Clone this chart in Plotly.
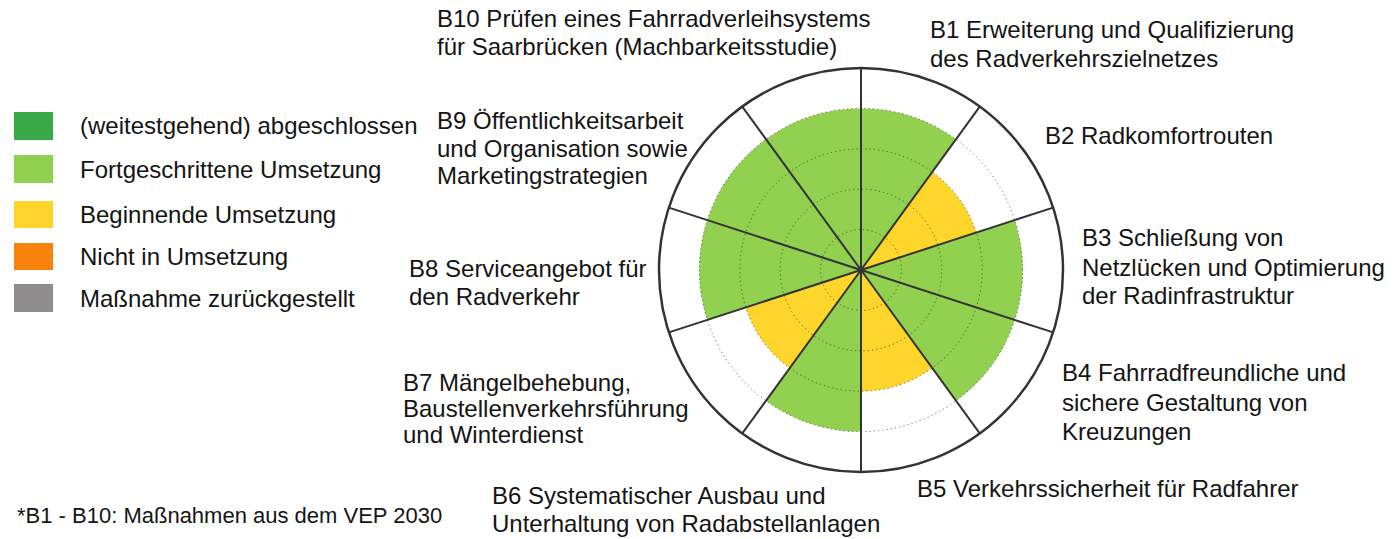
import plotly.graph_objects as go

# ---------------- data ----------------
measure_ids = ["B1", "B2", "B3", "B4", "B5", "B6", "B7", "B8", "B9", "B10"]
measure_lines = [
    ["B1 Erweiterung und Qualifizierung", "des Radverkehrszielnetzes"],
    ["B2 Radkomfortrouten"],
    ["B3 Schließung von", "Netzlücken und Optimierung", "der Radinfrastruktur"],
    ["B4 Fahrradfreundliche und", "sichere Gestaltung von", "Kreuzungen"],
    ["B5 Verkehrssicherheit für Radfahrer"],
    ["B6 Systematischer Ausbau und", "Unterhaltung von Radabstellanlagen"],
    ["B7 Mängelbehebung,", "Baustellenverkehrsführung", "und Winterdienst"],
    ["B8 Serviceangebot für", "den Radverkehr"],
    ["B9 Öffentlichkeitsarbeit", "und Organisation sowie", "Marketingstrategien"],
    ["B10 Prüfen eines Fahrradverleihsystems", "für Saarbrücken (Machbarkeitsstudie)"],
]
status_level = [4, 3, 4, 4, 3, 4, 3, 4, 4, 4]
status_by_measure = [
    "Fortgeschrittene Umsetzung", "Beginnende Umsetzung", "Fortgeschrittene Umsetzung",
    "Fortgeschrittene Umsetzung", "Beginnende Umsetzung", "Fortgeschrittene Umsetzung",
    "Beginnende Umsetzung", "Fortgeschrittene Umsetzung", "Fortgeschrittene Umsetzung",
    "Fortgeschrittene Umsetzung",
]
legend_labels = ["(weitestgehend) abgeschlossen", "Fortgeschrittene Umsetzung",
                 "Beginnende Umsetzung", "Nicht in Umsetzung", "Maßnahme zurückgestellt"]
legend_colors = ["#3aaa48", "#92d050", "#fdd52b", "#f7830d", "#8f8d8d"]
footnote = "*B1 - B10: Maßnahmen aus dem VEP 2030"
max_level = 5
grid_levels = [1, 2, 3, 4]

# ---------------- layout constants ----------------
W, H = 1400, 539
FONT = "Liberation Sans, Arial, sans-serif"
FS = 24
TXT = "#141414"
cx, cy, R = 861, 270, 202

# label line positions (left x, centre y of each line), in pixels
label_pos = {
    "B1": (928, [29.5, 58.5]),
    "B2": (1043, [136]),
    "B3": (1080, [238, 267, 295]),
    "B4": (1060, [372, 402, 431]),
    "B5": (915, [488]),
    "B6": (490, [495, 523]),
    "B7": (401, [382, 408, 434]),
    "B8": (407, [268, 296]),
    "B9": (435, [120, 148, 176]),
    "B10": (435, [19, 47]),
}
swatch_rows = [(112, 140), (155, 183), (201, 228), (243, 270), (284, 312)]
swatch_x = (14, 53)
legend_text_x = 78

color_of = dict(zip(legend_labels, legend_colors))
n = len(measure_ids)
sector = 360 / n
theta = [i * sector + sector / 2 for i in range(n)]

fig = go.Figure()
fig.add_trace(go.Barpolar(
    r=status_level, theta=theta, width=[sector] * n,
    marker=dict(color=[color_of[s] for s in status_by_measure], line=dict(width=0)),
    customdata=measure_ids, hovertext=status_by_measure,
    hovertemplate="%{customdata}: %{hovertext}<extra></extra>",
    subplot="polar",
))
# overlay subplot that only carries the grid (drawn above the bars)
fig.add_trace(go.Scatterpolar(r=[None], theta=[None], mode="markers",
                              hoverinfo="skip", showlegend=False, subplot="polar2"))

dom = dict(x=[(cx - R) / W, (cx + R) / W], y=[1 - (cy + R) / H, 1 - (cy - R) / H])
common_radial = dict(range=[0, max_level], showline=False, showticklabels=False, ticks="")
fig.update_layout(
    width=W, height=H,
    margin=dict(l=0, r=0, t=0, b=0),
    paper_bgcolor="white",
    showlegend=False,
    polar=dict(
        domain=dom, bgcolor="white",
        radialaxis=dict(**common_radial, showgrid=False),
        angularaxis=dict(rotation=90, direction="clockwise", showgrid=False,
                         showline=False, showticklabels=False, ticks=""),
    ),
    polar2=dict(
        domain=dom, bgcolor="rgba(0,0,0,0)",
        radialaxis=dict(**common_radial, tickmode="array", tickvals=grid_levels,
                        showgrid=True, gridcolor="rgba(45,45,45,0.65)",
                        griddash="1.3px,3px", gridwidth=1.3),
        angularaxis=dict(rotation=90, direction="clockwise",
                         tickmode="array", tickvals=[i * sector for i in range(n)],
                         showgrid=True, gridcolor="#333333", gridwidth=2,
                         showline=True, linecolor="#333333", linewidth=2.5,
                         showticklabels=False, ticks=""),
    ),
)

ann = []
for mid, lines in zip(measure_ids, measure_lines):
    lx, ys = label_pos[mid]
    for line, ly in zip(lines, ys):
        ann.append(dict(text=line, x=lx / W, y=1 - ly / H, xref="paper", yref="paper",
                        xanchor="left", yanchor="middle", showarrow=False,
                        font=dict(family=FONT, size=FS, color=TXT)))

shapes = []
for lab, col, (y0, y1) in zip(legend_labels, legend_colors, swatch_rows):
    shapes.append(dict(type="rect", xref="paper", yref="paper",
                       x0=swatch_x[0] / W, x1=swatch_x[1] / W,
                       y0=1 - y1 / H, y1=1 - y0 / H,
                       fillcolor=col, line=dict(width=0)))
    ann.append(dict(text=lab, x=legend_text_x / W, y=1 - ((y0 + y1) / 2) / H,
                    xref="paper", yref="paper", xanchor="left", yanchor="middle",
                    showarrow=False, font=dict(family=FONT, size=FS, color=TXT)))

ann.append(dict(text=footnote, x=15 / W, y=1 - 515 / H, xref="paper", yref="paper",
                xanchor="left", yanchor="middle", showarrow=False,
                font=dict(family=FONT, size=22, color=TXT)))

fig.update_layout(annotations=ann, shapes=shapes)
fig.write_html("out.html", config={"displayModeBar": False},
               post_script="document.body.style.margin='0';document.body.style.padding='0';")
